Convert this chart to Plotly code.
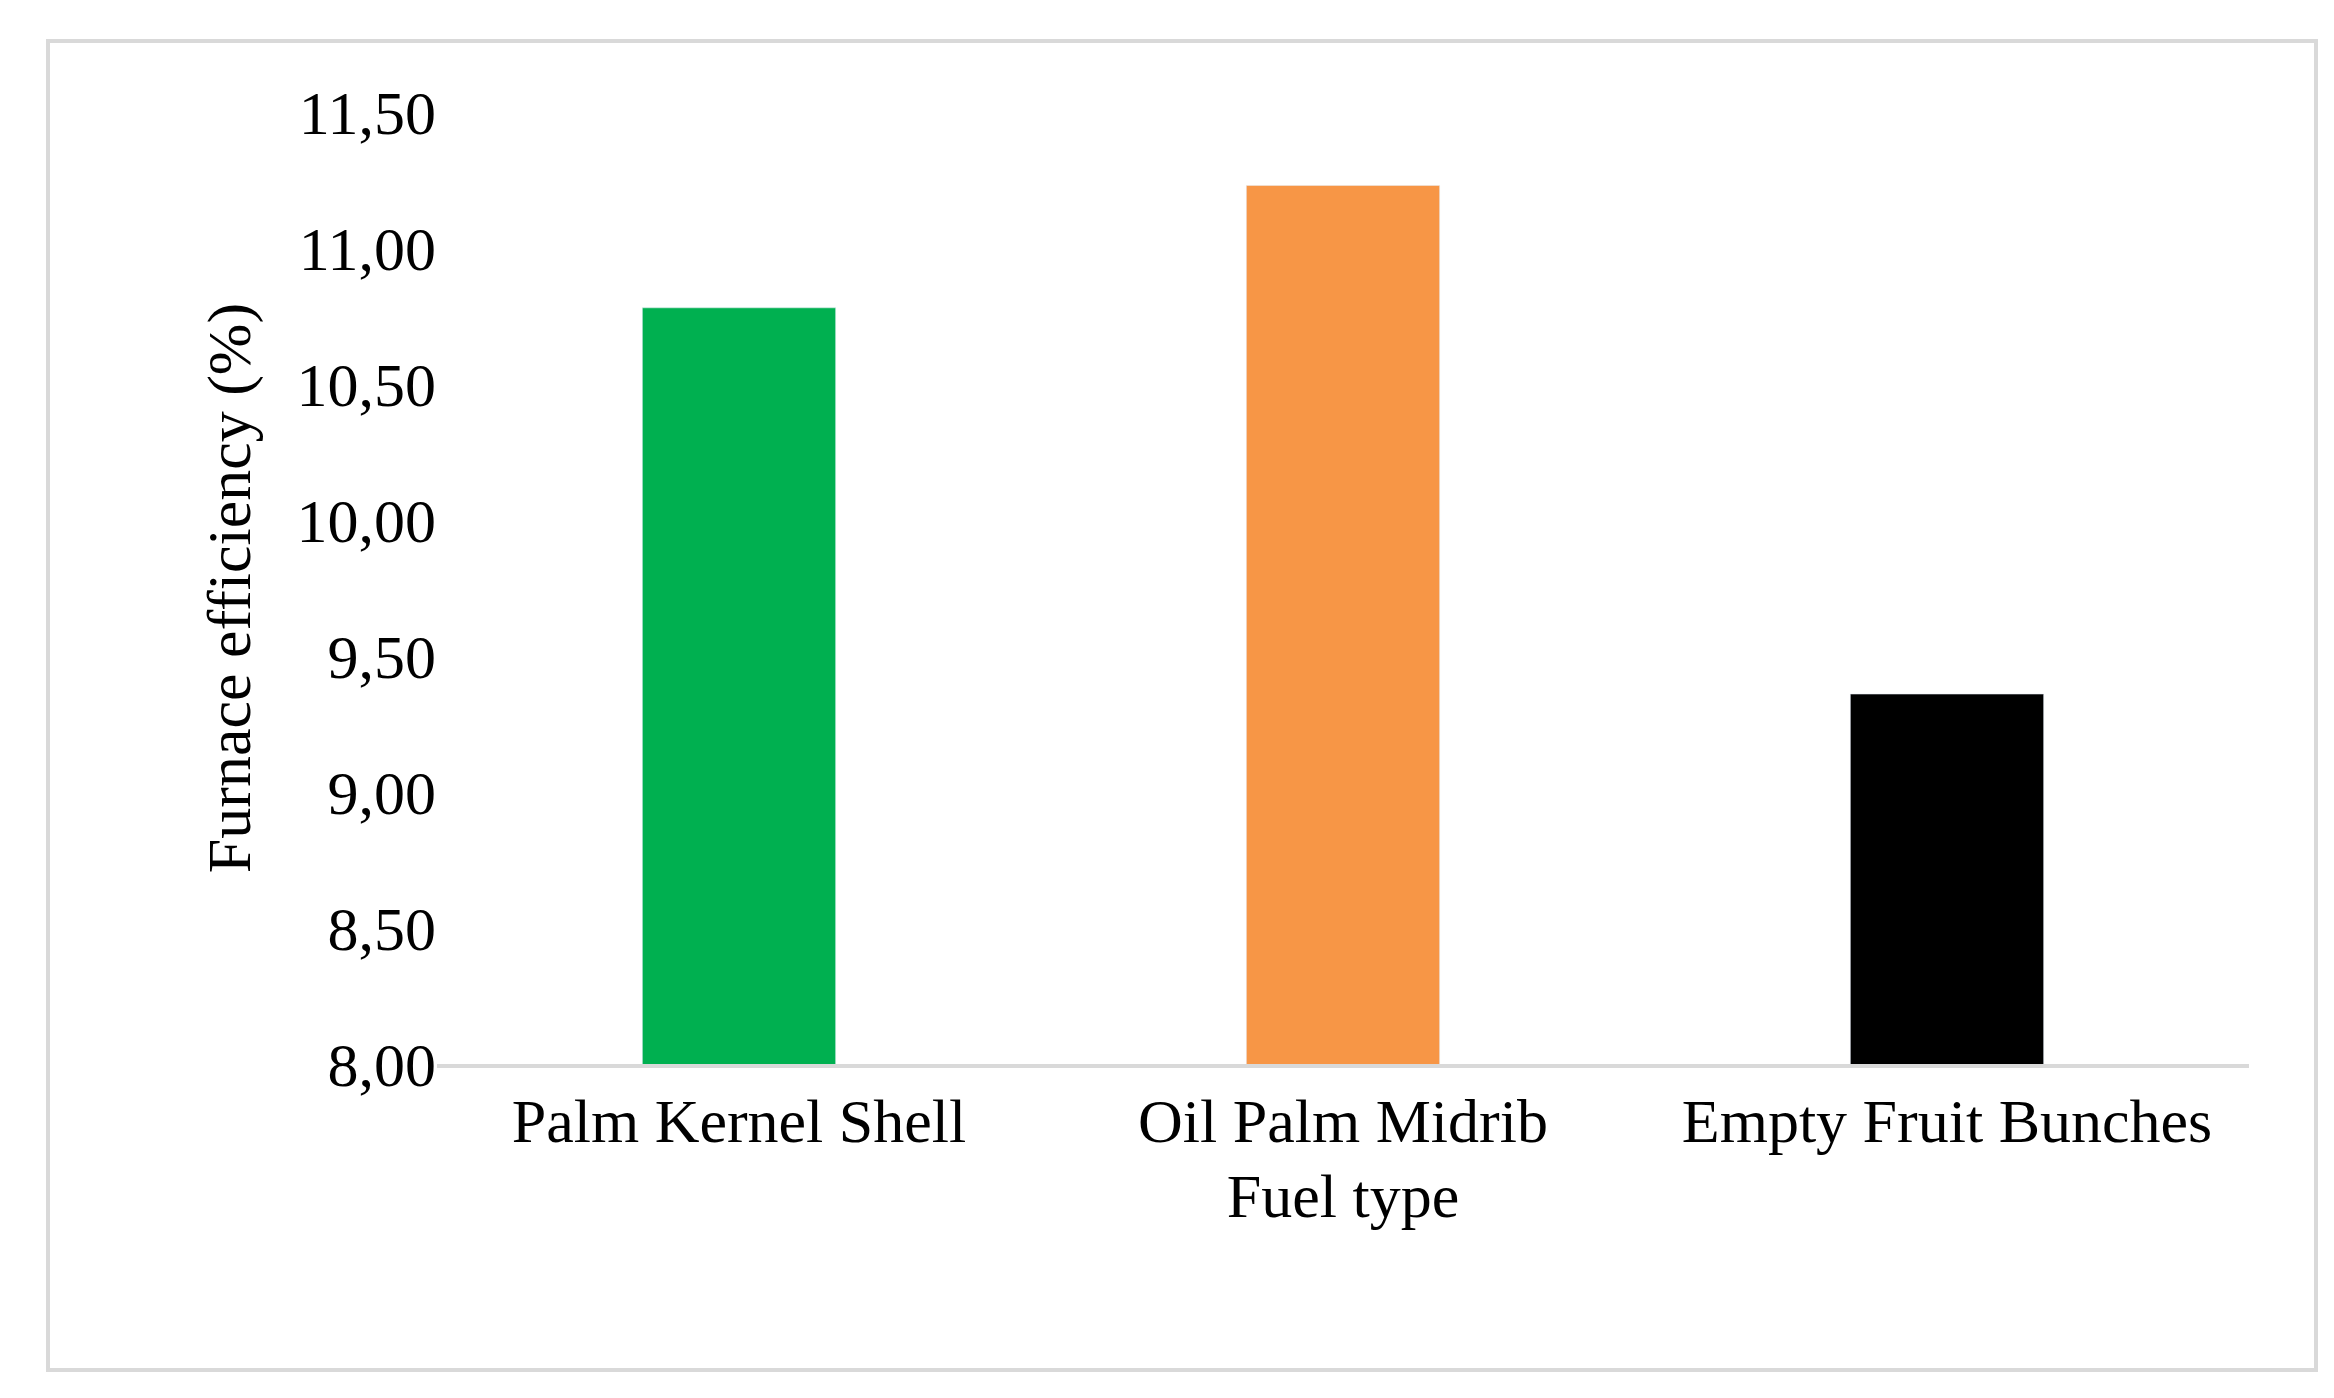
import plotly.graph_objects as go

categories = ["Palm Kernel Shell", "Oil Palm Midrib", "Empty Fruit Bunches"]
values = [10.78, 11.23, 9.36]
colors = ["#00B050", "#F79646", "#000000"]

W, H = 2334, 1398
fig = go.Figure(go.Bar(x=categories, y=values, marker_color=colors, width=0.32))
font = dict(family="Liberation Serif", size=62, color="black")
fig.update_layout(
    width=W, height=H, paper_bgcolor="white", plot_bgcolor="white",
    separators=", ", showlegend=False, font=font,
    margin=dict(l=429, r=W-2241, t=104, b=H-1056),
    xaxis=dict(title=dict(text="Fuel type", font=font, standoff=20), showline=True,
               linecolor="#D9D9D9", linewidth=4, ticks="", tickfont=font),
    yaxis=dict(title=dict(text="Furnace efficiency (%)", font=font, standoff=25),
               range=[8, 11.5], tickvals=[8, 8.5, 9, 9.5, 10, 10.5, 11, 11.5],
               tickformat=".2f", showgrid=False, zeroline=False, tickfont=font),
    shapes=[dict(type="rect", xref="paper", yref="paper",
                 x0=(40-429)/(2241-429), x1=(2308-429)/(2241-429),
                 y0=(1056-1362)/(1056-104), y1=(1056-33)/(1056-104),
                 line=dict(color="#D9D9D9", width=4))],
)
fig.write_html("out.html")
